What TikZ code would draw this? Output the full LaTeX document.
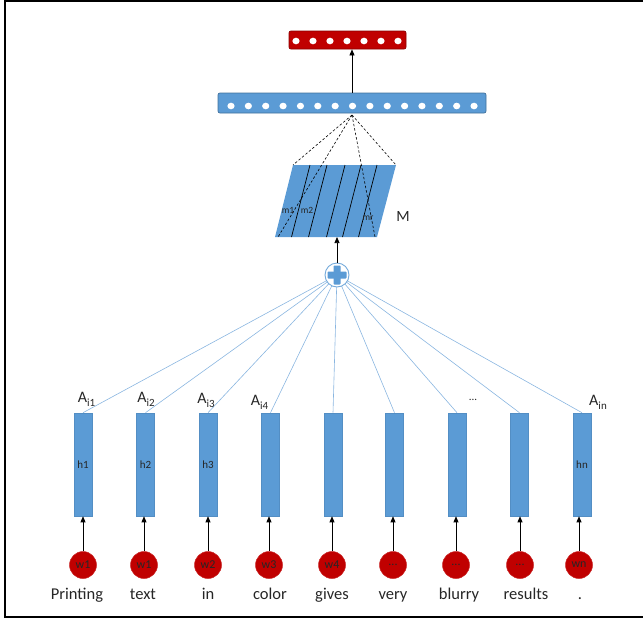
\documentclass[tikz,border=0pt]{standalone}
\usepackage{fontspec}
\setmainfont{Carlito}
\usetikzlibrary{arrows.meta,calc}
\definecolor{bfill}{HTML}{5B9BD5}
\definecolor{bdraw}{HTML}{41719C}
\definecolor{rfill}{HTML}{C00000}
\definecolor{rdraw}{HTML}{8C0000}
\definecolor{lline}{HTML}{8AB6E0}
\definecolor{txt}{HTML}{262626}
\newcommand{\Asub}[1]{A\raisebox{-4pt}{\fontsize{11}{11}\selectfont #1}}
\newcommand{\wdots}{...}
\begin{document}
\begin{tikzpicture}[x=1pt,y=-1pt,
  hbar/.style={draw=bfill!70!bdraw, fill=bfill, minimum width=18pt, minimum height=103pt, inner sep=0pt, line width=0.6pt, font=\fontsize{11}{11}\selectfont, text=txt},
  wcirc/.style={circle, fill=rfill, draw=rfill!85!white, minimum size=27pt, inner sep=0pt, line width=0.5pt, font=\fontsize{12}{12}\selectfont, text=txt},
  word/.style={font=\fontsize{16.5}{16.5}\selectfont, text=txt, inner sep=0pt, anchor=base},
  alab/.style={font=\fontsize{16}{16}\selectfont, text=txt, inner sep=0pt},
  mlab/.style={font=\fontsize{9.5}{9.5}\selectfont, text=txt, inner sep=0pt},
  arr/.style={-{Triangle[length=6pt,width=5pt]}, line width=0.7pt, black},
  att/.style={lline, line width=0.6pt},
  dsh/.style={black, line width=0.6pt, dash pattern=on 2.5pt off 2pt},
  vecbar/.style={rectangle, rounded corners=2pt, inner sep=0pt, line width=0.7pt}
]
\useasboundingbox (0,0) rectangle (643,619);
% frame
\draw[line width=2pt] (643,1) -- (5,1) -- (5,617) -- (643,617);

% top vectors
\node[vecbar, draw=rdraw, fill=rfill, minimum width=117pt, minimum height=18pt] (red) at (347.5,40) {};
\node[vecbar, draw=bdraw, fill=bfill, minimum width=268pt, minimum height=20pt] (blue) at (352,103) {};
\foreach \i in {0,1,2,3,4,5,6} \fill[white] (296+17*\i,41) ellipse (3.6 and 3.3);
\foreach \i in {0,1,2,3,4,5,6,7,8,9,10,11,12,13,14} \fill[white] (231+17.36*\i,106) ellipse (3.6 and 3.3);
\draw[arr] (blue.north) -- (red.south -| blue.north);

% matrix M
\coordinate (apex) at (352,115);
\coordinate (Mtl) at (293,165);
\coordinate (Mtr) at (396,165);
\coordinate (Mbr) at (377,237);
\coordinate (Mbl) at (275,237);
\coordinate (Mb) at (337,237);
\fill[bfill] (Mtl) -- (Mtr) -- (Mbr) -- (Mbl) -- cycle;
\foreach \x in {310,327,345,361,377} \draw[black, line width=0.7pt] (\x,165) -- (\x-18.5,237);
\draw[dsh] (apex) -- (Mtl);
\draw[dsh] (apex) -- (278,237);
\draw[dsh] (apex) -- (375,237);
\draw[dsh] (apex) -- (Mtr);
\node[mlab] (m1) at (288,210) {m1};
\node[mlab] (m2) at (307,210) {m2};
\node[mlab] (mr) at (368,218) {mr};
\node[font=\fontsize{15.6}{15.6}\selectfont, text=txt, inner sep=0pt] (Mlab) at (403,216) {M};

% hidden bars
\coordinate (pc) at (337,275);
\foreach \n/\x/\t in {1/83/h1,2/145.5/h2,3/208/h3,4/270.5/,5/333/,6/394.5/,7/457/,8/519.5/,9/582/hn}
  \node[hbar] (h\n) at (\x,464.5) {\t};
\foreach \n in {1,2,3,4,5,6,7,8,9} \draw[att] (pc) -- (h\n.north);

% plus
\node[circle, draw=bfill!85!white, fill=white, minimum size=24pt, inner sep=0pt, line width=0.9pt] (plus) at (pc) {};
\fill[bfill, rounded corners=0.8pt] ($(plus)+(-9.5,-3.5)$) rectangle ($(plus)+(9.5,3.5)$);
\fill[bfill, rounded corners=0.8pt] ($(plus)+(-3.5,-9.5)$) rectangle ($(plus)+(3.5,9.5)$);
\draw[arr] (plus.north) -- (Mb);

% attention labels
\node[alab] (a1) at (86.5,399) {\Asub{i1}};
\node[alab] (a2) at (146,399) {\Asub{i2}};
\node[alab] (a3) at (206,400) {\Asub{i3}};
\node[alab] (a4) at (259.5,402) {\Asub{i4}};
\node[font=\fontsize{11}{11}\selectfont, text=txt, inner sep=0pt] (dots) at (473,400) {\wdots};
\node[alab] (an) at (598,402) {\Asub{in}};

% words
\foreach \n/\x/\t/\wx/\w in {1/83/w1/77/Printing,2/144/w1/143/text,3/208/w2/208/in,4/269/w3/270/color,5/332/w4/332/gives,6/393/\wdots/393/very,7/456/\wdots/459/blurry,8/520/\wdots/526/results,9/579/wn/580/.}{
  \node[wcirc] (w\n) at (\x,565) {\t};
  \draw[arr] (w\n.north) -- (w\n.north |- h\n.south);
  \node[word] (t\n) at (\wx,599) {\w};
}
\end{tikzpicture}
\end{document}
